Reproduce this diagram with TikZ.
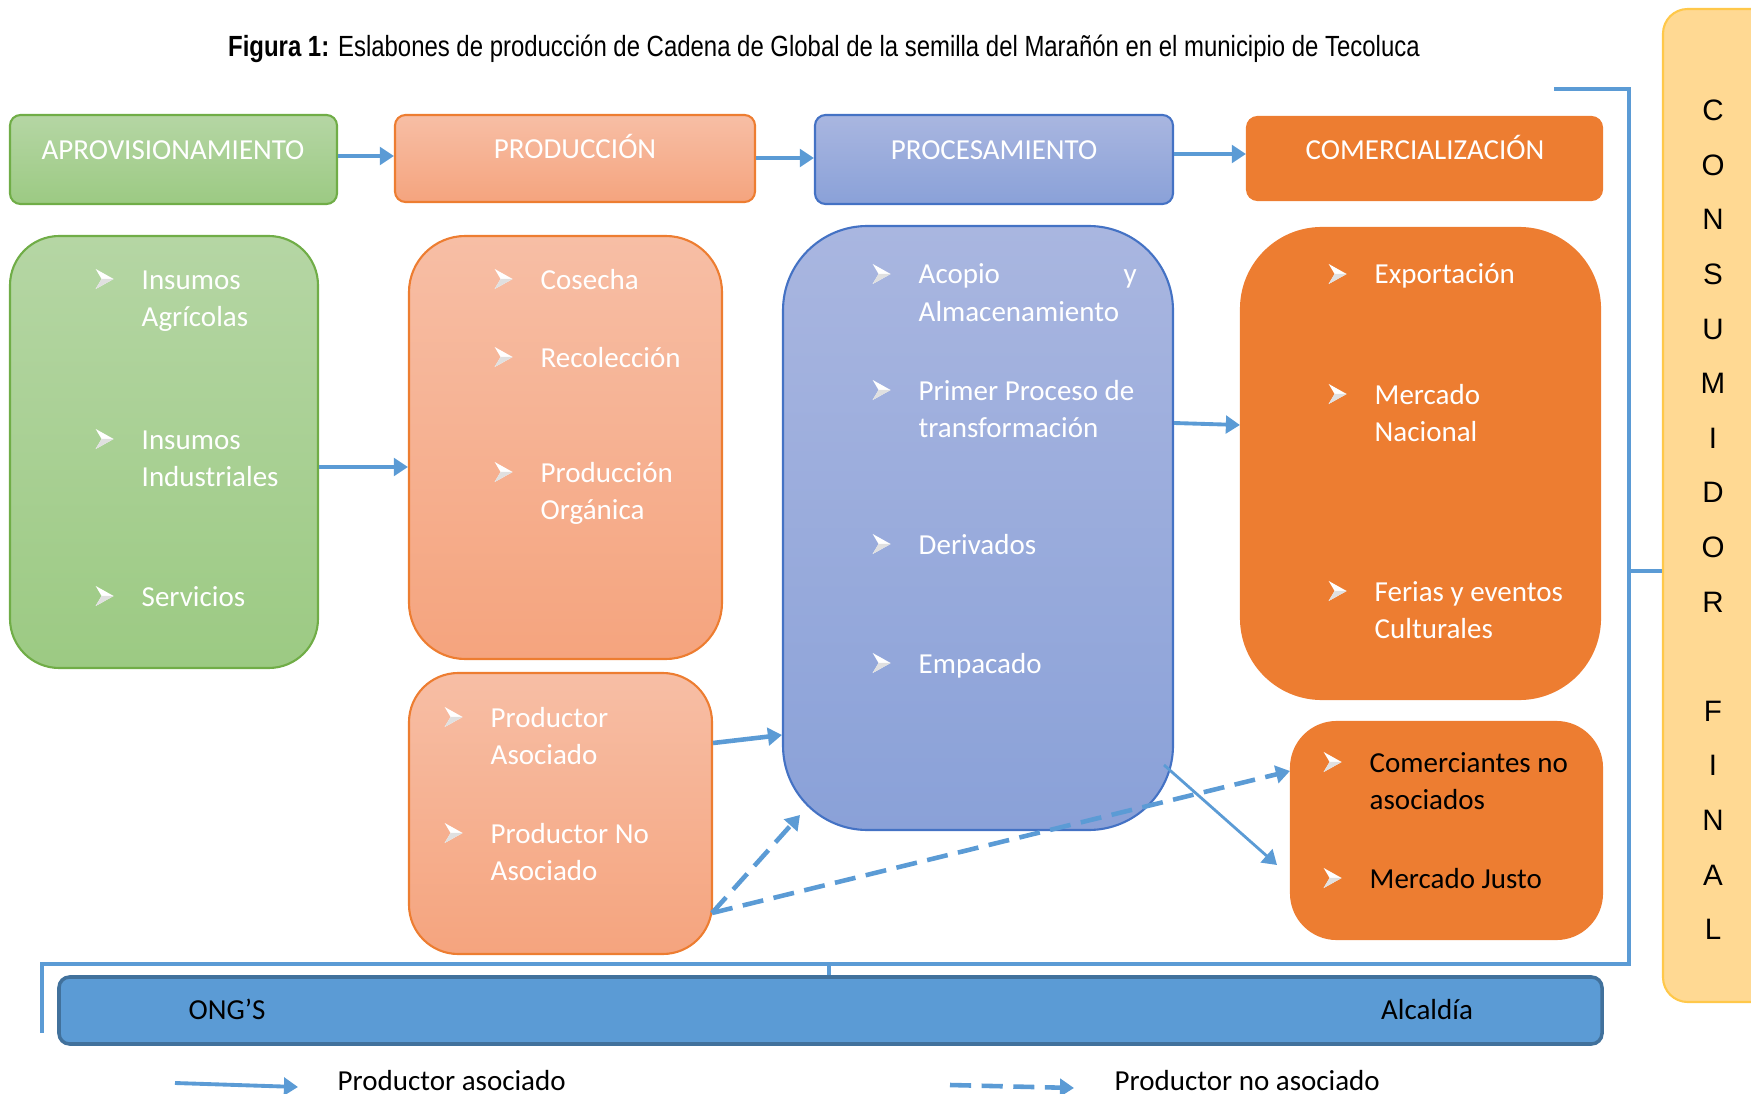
\documentclass[tikz,border=0pt]{standalone}
\usepackage{fontspec}
\setmainfont{Carlito}
\newfontfamily\arialfont{Liberation Sans}
\newfontfamily\titulofont[FakeStretch=0.82]{Liberation Sans}
\usetikzlibrary{arrows.meta,fit}

\definecolor{verdeA}{HTML}{B5D6A4}
\definecolor{verdeC}{HTML}{9CCA83}
\definecolor{verdeB}{HTML}{70AD47}
\definecolor{salA}{HTML}{F7BEA5}
\definecolor{salC}{HTML}{F5A47E}
\definecolor{salB}{HTML}{ED7D31}
\definecolor{azA}{HTML}{A9B6E0}
\definecolor{azC}{HTML}{8AA1D8}
\definecolor{azB}{HTML}{4472C4}
\definecolor{naranja}{HTML}{ED7D31}
\definecolor{crema}{HTML}{FFD993}
\definecolor{cremaB}{HTML}{FFC84A}
\definecolor{azulL}{HTML}{5B9BD5}
\definecolor{azulD}{HTML}{41719C}

\newcommand{\bala}{\tikz[baseline=0pt]{\fill[white] (0pt,0pt) -- (5.1pt,2.85pt) -- (0pt,5.7pt) -- (1.7pt,2.85pt) -- cycle;
  \fill[black!12] (0pt,0pt) -- (5.1pt,2.85pt) -- (1.7pt,2.85pt) -- cycle;}}
\newcommand{\lista}[2][70pt]{\llap{\bala\hspace{8pt}}\parbox[t]{#1}{\raggedright #2}}

\tikzset{
  caja/.style args={#1/#2/#3}{draw=#3, top color=#1, bottom color=#2, line width=0.6pt, inner sep=0pt},
  txt/.style={anchor=base west, inner sep=0pt, text=white, font=\fontsize{8.25}{10.8}\selectfont},
  htxt/.style={anchor=base, inner sep=0pt, text=white, font=\fontsize{8.25}{10.8}\selectfont},
  letra/.style={inner sep=0pt, font=\arialfont\fontsize{8.4}{10}\selectfont},
  linea/.style={draw=azulL, line width=0.9pt},
  flecha/.style={draw=azulL, line width=1.1pt, -{Triangle[length=4pt,width=5pt]}},
  gflecha/.style={flecha, line width=1.4pt},
  trazo/.style={flecha, line width=1.3pt, dash pattern=on 6pt off 3pt},
}

\begin{document}
\begin{tikzpicture}[x=0.01cm,y=-0.01cm]
\useasboundingbox (0,0) rectangle (1751,1094);

\node (titulo) at (824,49) {\titulofont\fontsize{8.3}{10}\selectfont\textbf{Figura 1:} Eslabones de producción de Cadena de Global de la semilla del Marañón en el municipio de Tecoluca};

\node[caja=crema/crema/cremaB, rounded corners=7pt, fit={(1663,9) (1800,1002)}] (consum) {};
\foreach \l [count=\i from 0] in {C,O,N,S,U,M,I,D,O,R,,F,I,N,A,L}
  \node[letra] (c\i) at (1713,110.6+54.6*\i) {\l};

\node[caja=verdeA/verdeC/verdeB, rounded corners=3pt, fit={(10,115) (337,204)}] (aprov) {};
\node[caja=salA/salC/salB, rounded corners=3pt, fit={(395,115) (755,202)}] (prod) {};
\node[caja=azA/azC/azB, rounded corners=3pt, fit={(815,115) (1173,204)}] (proc) {};
\node[caja=naranja/naranja/naranja, rounded corners=3pt, fit={(1247,117) (1602,200)}] (comer) {};
\node[htxt] (t1) at (173,160) {APROVISIONAMIENTO};
\node[htxt] (t2) at (575,159) {PRODUCCIÓN};
\node[htxt] (t3) at (994,160) {PROCESAMIENTO};
\node[htxt] (t4) at (1425,160) {COMERCIALIZACIÓN};

\node[caja=verdeA/verdeC/verdeB, rounded corners=14pt, fit={(10,236) (318,668)}] (verde) {};
\node[caja=salA/salC/salB, rounded corners=16pt, fit={(409,236) (722,659)}] (sal1) {};
\node[caja=azA/azC/azB, rounded corners=24pt, fit={(783,226) (1173,830)}] (azul) {};
\node[caja=naranja/naranja/naranja, rounded corners=23pt, fit={(1241,228) (1600,699)}] (nar1) {};
\node[caja=salA/salC/salB, rounded corners=14pt, fit={(409,673) (712,954)}] (sal2) {};
\node[caja=naranja/naranja/naranja, rounded corners=13pt, fit={(1291,722) (1602,939)}] (nar2) {};

\node[txt] (v1) at (141,289) {\lista{Insumos\\Agrícolas}};
\node[txt] (v2) at (141,449) {\lista{Insumos\\Industriales}};
\node[txt] (v3) at (141,606) {\lista{Servicios}};

\node[txt] (s1) at (540,289) {\lista{Cosecha}};
\node[txt] (s2) at (540,367) {\lista{Recolección}};
\node[txt] (s3) at (540,482) {\lista{Producción\\Orgánica}};

\node[txt] (a1) at (918,284) {\lista[62pt]{Acopio\hfill y\\Almacenamiento}};
\node[txt] (a2) at (918,400) {\lista{Primer Proceso de\\transformación}};
\node[txt] (a3) at (918,554) {\lista{Derivados}};
\node[txt] (a4) at (918,673) {\lista{Empacado}};

\node[txt] (n1) at (1374,284) {\lista{Exportación}};
\node[txt] (n2) at (1374,404) {\lista{Mercado\\Nacional}};
\node[txt] (n3) at (1374,601) {\lista{Ferias y eventos\\Culturales}};

\node[txt] (p1) at (490,727) {\lista{Productor\\Asociado}};
\node[txt] (p2) at (490,843) {\lista{Productor No\\Asociado}};

\node[txt, text=black] (m1) at (1369,772) {\lista{Comerciantes no\\asociados}};
\node[txt, text=black] (m2) at (1369,888) {\lista{Mercado Justo}};

\node[fill=azulL, draw=azulD, line width=1pt, rounded corners=3pt, inner sep=0pt, fit={(59,977) (1602,1044)}] (barra) {};
\node[htxt, text=black] (ong) at (227,1019) {ONG’S};
\node[htxt, text=black] (alc) at (1427,1019) {Alcaldía};

\coordinate (b1) at (1554,89);
\coordinate (b2) at (42,1033);
\coordinate (nd) at (712,913);
\draw[linea] (b1) -| (1629,964) -| (b2);
\draw[linea] (1629,571) -- (consum.west |- 0,571);
\draw[linea] (829,964) -- (barra.north -| 829,0);

\draw[gflecha] (aprov.east |- 0,156) -- (prod.west |- 0,156);
\draw[gflecha] (prod.east |- 0,158) -- (proc.west |- 0,158);
\draw[gflecha] (proc.east |- 0,154) -- (comer.west |- 0,154);

\draw[flecha] (verde.east |- 0,467) -- (sal1.west |- 0,467);
\draw[flecha] (azul.east |- 0,423) -- (nar1.west |- 0,425);
\draw[flecha, line width=1.3pt] (sal2.east |- 0,743) -- (azul.west |- 0,735);
\draw[flecha, line width=0.8pt] (1164,765) -- (1277,865);
\draw[trazo] (nd) -- (800,815);
\draw[trazo] (nd) -- (nar2.west |- 0,771);

\coordinate (l1) at (175,1083);
\coordinate (l2) at (950,1085);
\draw[flecha] (l1) -- (298,1087);
\draw[trazo] (l2) -- (1074,1088);
\node[txt, text=black] (ley1) at (337,1090) {Productor asociado};
\node[txt, text=black] (ley2) at (1114,1090) {Productor no asociado};
\end{tikzpicture}
\end{document}
